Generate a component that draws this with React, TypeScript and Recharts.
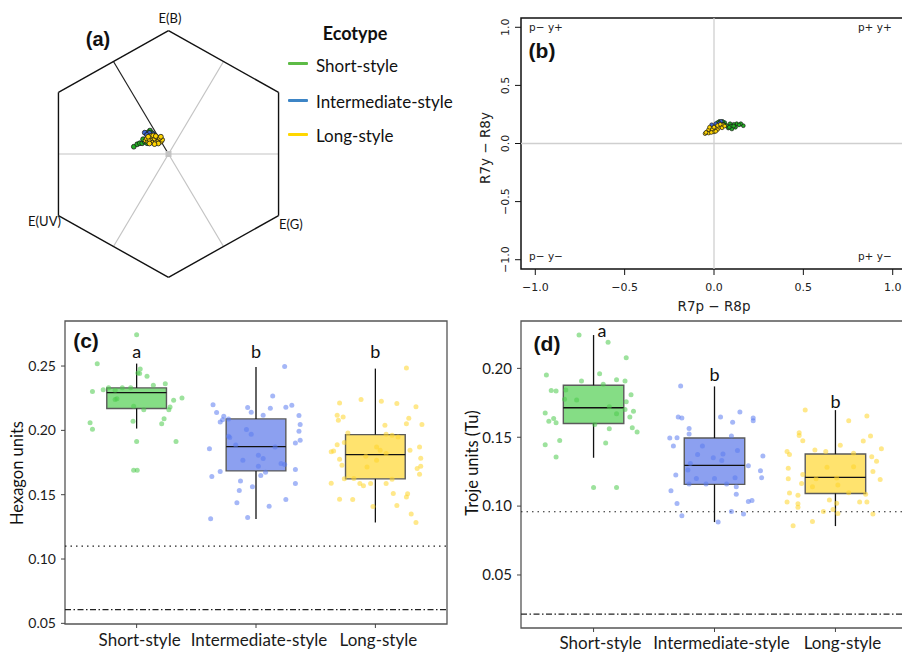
import React from "react";
import { ScatterChart, Scatter, XAxis, YAxis, ReferenceLine, ReferenceArea } from "recharts";

const GROUPS = ["Short-style", "Intermediate-style", "Long-style"];
const LINE_COL = ["#5DBB46", "#3D85C6", "#FFD700"];
const DOT_COL = ["#22B022", "#3B66D6", "#FFD400"];
const BOX_FILL = ["#85DD85", "#8CA0F0", "#FFE36E"];
const JIT_FILL = ["#4CCB4C", "#5B7BF0", "#FFD62A"];

// (a) colour hexagon loci [x, y]
const hexShort = [
  [-0.273, 0.059], [-0.246, 0.079], [-0.226, 0.087], [-0.207, 0.087], [-0.187, 0.1],
  [-0.168, 0.087], [-0.2, 0.12], [-0.146, 0.19], [-0.16, 0.175], [-0.13, 0.17],
];
const hexInter = [[-0.187, 0.173], [-0.15, 0.17], [-0.17, 0.155], [-0.12, 0.16]];
const hexLong = [
  [-0.18, 0.11], [-0.16, 0.1], [-0.14, 0.105], [-0.12, 0.1], [-0.1, 0.105], [-0.08, 0.11],
  [-0.06, 0.1], [-0.05, 0.115], [-0.17, 0.125], [-0.15, 0.12], [-0.13, 0.13], [-0.11, 0.125],
  [-0.09, 0.135], [-0.07, 0.13], [-0.14, 0.145], [-0.12, 0.15], [-0.1, 0.145], [-0.16, 0.14],
  [-0.08, 0.085], [-0.11, 0.08], [-0.15, 0.085], [-0.06, 0.14],
];
const HEX_VERTS = [[0, 1], [0.866, 0.5], [0.866, -0.5], [0, -1], [-0.866, -0.5], [-0.866, 0.5]];
const SPOKE_ANGLES = [0, 60, 120, 180, 240, 300];

// (b) segment classification [R7p-R8p, R7y-R8y]
const segShort = [
  [0.164, 0.153], [0.15, 0.17], [0.127, 0.17], [0.11, 0.165], [0.09, 0.17], [0.08, 0.133],
  [0.1, 0.125], [0.12, 0.14], [0.06, 0.18], [0.048, 0.19], [0.03, 0.19], [0.07, 0.155],
  [0.095, 0.15], [0.11, 0.15], [0.14, 0.16], [0.02, 0.18], [0.055, 0.165], [0.085, 0.14],
];
const segInter = [[0.04, 0.19], [-0.013, 0.161], [0.01, 0.17], [0.02, 0.15], [-0.02, 0.13], [0.03, 0.175]];
const segLong = [
  [-0.05, 0.085], [-0.04, 0.1], [-0.03, 0.09], [-0.02, 0.11], [-0.01, 0.12], [0.0, 0.1],
  [0.01, 0.13], [0.02, 0.12], [0.03, 0.14], [0.04, 0.15], [0.05, 0.16], [-0.03, 0.12],
  [0.0, 0.14], [0.02, 0.155], [0.035, 0.165], [-0.045, 0.095], [-0.015, 0.095], [0.01, 0.105],
  [0.045, 0.135], [-0.025, 0.14], [0.06, 0.15],
];
const QUADRANTS = [
  { x: -0.94, y: 1.0, t: "p\u2212 y+" },
  { x: 0.9, y: 1.0, t: "p+ y+" },
  { x: -0.94, y: -0.97, t: "p\u2212 y\u2212" },
  { x: 0.9, y: -0.97, t: "p+ y\u2212" },
];
const SEG_TICKS = [-1, -0.5, 0, 0.5, 1];

// (c) hexagon units: jitter [offset from group, value]
const hexJitShort = [
  [0, 0.2743], [-0.33, 0.2518], [0.03, 0.2477], [0.025, 0.2441], [0.01, 0.2446], [0.087, 0.242],
  [-0.37, 0.2303], [-0.28, 0.2316], [-0.235, 0.2332], [-0.18, 0.2311], [-0.165, 0.2246],
  [-0.12, 0.2332], [-0.05, 0.2332], [0.14, 0.235], [0.24, 0.2363], [0.31, 0.2234], [0.38, 0.2252],
  [0.28, 0.2182], [0.27, 0.2161], [0.06, 0.2161], [-0.025, 0.2187], [-0.39, 0.206], [-0.37, 0.2008],
  [-0.03, 0.2071], [0.23, 0.2091], [0.21, 0.2052], [0.0, 0.1913], [0.33, 0.1913], [-0.025, 0.169],
  [0.005, 0.169], [-0.18, 0.2239],
];
const hexJitInter = [
  [0.24, 0.2497], [0.14, 0.2267], [-0.36, 0.22], [-0.07, 0.2177], [0.12, 0.2171], [0.25, 0.2179],
  [0.3, 0.2195], [-0.33, 0.2138], [-0.04, 0.214], [-0.27, 0.2109], [-0.28, 0.2083], [-0.3, 0.2065],
  [-0.23, 0.2089], [0.06, 0.2117], [0.36, 0.2115], [0.37, 0.2045], [0.36, 0.1993], [-0.08, 0.2006],
  [-0.04, 0.197], [-0.23, 0.1954], [-0.22, 0.1944], [0.37, 0.1923], [0.33, 0.1902], [-0.17, 0.1887],
  [-0.39, 0.1858], [0.16, 0.1871], [0.02, 0.1807], [0.06, 0.1781], [-0.11, 0.1768], [0.24, 0.1734],
  [0.21, 0.1742], [0.02, 0.1721], [0.33, 0.1695], [0.08, 0.1675], [-0.3, 0.168], [0.04, 0.1649],
  [-0.37, 0.1641], [-0.13, 0.1607], [0.33, 0.1587], [-0.03, 0.1561], [-0.14, 0.1532], [0.25, 0.1463],
  [-0.16, 0.1437], [0.11, 0.1411], [-0.38, 0.1313], [-0.07, 0.1323],
];
const hexJitLong = [
  [0.26, 0.2484], [-0.12, 0.2239], [0.05, 0.2226], [-0.3, 0.2213], [0.18, 0.2208], [0.34, 0.2184],
  [-0.32, 0.2117], [-0.27, 0.2104], [-0.31, 0.2078], [0.28, 0.2094], [0.26, 0.2052], [0.39, 0.2045],
  [0.08, 0.2039], [-0.23, 0.198], [0.09, 0.197], [0.14, 0.1962], [0.19, 0.1949], [-0.32, 0.1889],
  [-0.26, 0.1905], [0.01, 0.1871], [0.37, 0.1871], [-0.35, 0.184], [-0.37, 0.1833], [0.29, 0.1846],
  [0.04, 0.1846], [-0.3, 0.1776], [-0.08, 0.1799], [0.38, 0.1783], [0.01, 0.1768], [0.09, 0.182],
  [-0.28, 0.1729], [0.38, 0.1721], [0.35, 0.1703], [-0.07, 0.1716], [0.37, 0.1659], [-0.26, 0.1623],
  [-0.18, 0.1626], [0.14, 0.162], [-0.13, 0.1587], [-0.1, 0.1569], [-0.04, 0.1587], [0.09, 0.1587],
  [-0.37, 0.1589], [0.15, 0.1509], [0.27, 0.1507], [0.26, 0.1483], [-0.3, 0.1465], [-0.19, 0.1463],
  [0.18, 0.1416], [-0.02, 0.1408], [0.3, 0.1349], [0.34, 0.1284],
];
const hexLo = [0.2014, 0.1312, 0.1284];
const hexQ1 = [0.217, 0.1685, 0.1623];
const hexMed = [0.2293, 0.1874, 0.1812];
const hexQ3 = [0.233, 0.2089, 0.1967];
const hexHi = [0.2519, 0.2492, 0.248];
const hexLetters = [
  { x: 1, y: 0.2617, t: "a" },
  { x: 2, y: 0.2617, t: "b" },
  { x: 3, y: 0.2617, t: "b" },
];
const hexTicks = [0.05, 0.1, 0.15, 0.2, 0.25];

// (d) troje units
const trJitShort = [
  [-0.12, 0.2242], [0.12, 0.2189], [0.27, 0.2077], [-0.39, 0.1952], [0.05, 0.1961], [-0.1, 0.1908],
  [0.19, 0.1918], [0.26, 0.1908], [-0.35, 0.184], [-0.31, 0.1835], [-0.23, 0.1843], [0.08, 0.1884],
  [0.31, 0.1809], [-0.24, 0.1775], [-0.14, 0.177], [0.27, 0.1758], [0.13, 0.1722], [-0.4, 0.1676],
  [-0.37, 0.1617], [-0.33, 0.1637], [-0.31, 0.1605], [0.33, 0.1688], [0.26, 0.1702], [0.19, 0.1671],
  [0.3, 0.1647], [0.01, 0.1593], [0.13, 0.1562], [0.32, 0.1569], [0.36, 0.1538], [-0.28, 0.1477],
  [0.1, 0.1458], [-0.4, 0.1446], [-0.31, 0.1356], [0.0, 0.1136], [0.19, 0.1136],
];
const trJitInter = [
  [-0.28, 0.1872], [-0.3, 0.1647], [-0.27, 0.1639], [0.05, 0.1647], [0.21, 0.1683], [0.15, 0.1608],
  [0.32, 0.1639], [0.32, 0.162], [-0.21, 0.1564], [-0.21, 0.1523], [-0.37, 0.1494], [-0.31, 0.1496],
  [0.14, 0.1509], [-0.34, 0.1436], [-0.1, 0.1436], [-0.14, 0.1375], [0.19, 0.1404], [0.4, 0.1363],
  [-0.2, 0.131], [-0.01, 0.1351], [0.07, 0.1378], [0.28, 0.1293], [0.06, 0.1332], [0.38, 0.1257],
  [-0.32, 0.1225], [-0.22, 0.1262], [-0.15, 0.1201], [0.0, 0.1201], [0.17, 0.1206], [-0.21, 0.116],
  [-0.07, 0.116], [0.1, 0.116], [0.18, 0.114], [0.39, 0.1206], [-0.36, 0.1111], [0.18, 0.1087],
  [-0.31, 0.1019], [0.28, 0.1034], [0.31, 0.1041], [0.14, 0.0961], [0.24, 0.0942], [-0.27, 0.093],
  [0.03, 0.0884],
];
const trJitLong = [
  [-0.25, 0.1697], [0.11, 0.162], [0.26, 0.1654], [-0.3, 0.1533], [-0.3, 0.1513], [-0.27, 0.1475],
  [0.29, 0.1509], [0.23, 0.1472], [0.38, 0.1417], [0.04, 0.1441], [-0.4, 0.1397], [-0.38, 0.1375],
  [-0.17, 0.1407], [-0.08, 0.1397], [0.15, 0.1383], [0.3, 0.1358], [0.34, 0.1325], [-0.39, 0.1274],
  [0.31, 0.1252], [-0.27, 0.123], [-0.07, 0.1283], [0.15, 0.1286], [-0.39, 0.1199], [-0.16, 0.1199],
  [0.01, 0.1204], [0.37, 0.1194], [-0.28, 0.1165], [-0.19, 0.1141], [0.02, 0.1153], [0.11, 0.1097],
  [0.25, 0.1087], [-0.38, 0.1095], [-0.31, 0.1078], [-0.05, 0.1044], [-0.4, 0.1029], [-0.31, 0.1017],
  [0.01, 0.102], [0.2, 0.1029], [0.26, 0.1029], [-0.31, 0.0991], [-0.1, 0.0961], [-0.02, 0.0976],
  [0.02, 0.0947], [0.31, 0.0942], [-0.19, 0.0889], [-0.35, 0.0857],
];
const trLo = [0.1351, 0.0884, 0.0855];
const trQ1 = [0.16, 0.1158, 0.1092];
const trMed = [0.1714, 0.1296, 0.1208];
const trQ3 = [0.1877, 0.1494, 0.1378];
const trHi = [0.2242, 0.1869, 0.1697];
const trLetters = [
  { x: 1.07, y: 0.2278, t: "a" },
  { x: 2, y: 0.1956, t: "b" },
  { x: 3, y: 0.1765, t: "b" },
];
const trTicks = [0.05, 0.1, 0.15, 0.2];

const FONT = "Lato, 'Open Sans', sans-serif";
const RFONT = "'DejaVu Sans', sans-serif";

const xy = (arr: number[][]) => arr.map(([x, y]) => ({ x, y }));
const signed = (v: number) => (v < 0 ? "\u2212" : "") + Math.abs(v).toFixed(1);

function T({ x, y, size = 14, weight = 400, family = FONT, rot = 0, anchor = "center", color = "#111", children }: any) {
  const tx = anchor === "center" ? "-50%" : anchor === "start" ? "0" : "-100%";
  return (
    <div
      style={{
        position: "absolute",
        left: x,
        top: y,
        transform: `translate(${tx}, -50%) rotate(${rot}deg)`,
        fontSize: size,
        fontWeight: weight,
        fontFamily: family,
        color,
        whiteSpace: "nowrap",
        lineHeight: 1,
      }}
    >
      {children}
    </div>
  );
}

const dot = (fill: string, r: number, sw: number) => (p: any) =>
  <circle cx={p.cx} cy={p.cy} r={r} fill={fill} stroke="#1a1a1a" strokeWidth={sw} />;

const textShape = (size: number, family: string, color = "#111") => (p: any) => (
  <text x={p.cx} y={p.cy} textAnchor="middle" dominantBaseline="central" fontSize={size} fontFamily={family} fill={color}>
    {p.payload.t}
  </text>
);

function HexagonPanel() {
  const segs = HEX_VERTS.map((v, i) => [v, HEX_VERTS[(i + 1) % HEX_VERTS.length]]);
  const spokes = SPOKE_ANGLES.map((a) => {
    const r = (a * Math.PI) / 180;
    return { a, end: [0.866 * Math.cos(r), 0.866 * Math.sin(r)] };
  });
  return (
    <div style={{ position: "absolute", left: 16, top: 6 }}>
      <ScatterChart width={305} height={296} margin={{ top: 0, right: 0, bottom: 0, left: 0 }}>
        <XAxis type="number" dataKey="x" domain={[-1.2, 1.2]} hide allowDataOverflow />
        <YAxis type="number" dataKey="y" domain={[-1.2, 1.2]} hide allowDataOverflow />
        {spokes.map((s) => (
          <ReferenceLine
            key={s.a}
            segment={[{ x: 0, y: 0 }, { x: s.end[0], y: s.end[1] }]}
            stroke={s.a === 120 ? "#222" : "#c4c4c4"}
            strokeWidth={1.2}
          />
        ))}
        {segs.map(([a, b], i) => (
          <ReferenceLine key={i} segment={[{ x: a[0], y: a[1] }, { x: b[0], y: b[1] }]} stroke="#111" strokeWidth={1.4} />
        ))}
        <Scatter
          data={[{ x: 0, y: 0 }]}
          isAnimationActive={false}
          shape={(p: any) => <rect x={p.cx - 3} y={p.cy - 3} width={6} height={6} fill="#c4c4c4" />}
        />
        <Scatter data={xy(hexShort)} isAnimationActive={false} shape={dot(DOT_COL[0], 2.4, 0.8)} />
        <Scatter data={xy(hexInter)} isAnimationActive={false} shape={dot(DOT_COL[1], 2.4, 0.8)} />
        <Scatter data={xy(hexLong)} isAnimationActive={false} shape={dot(DOT_COL[2], 2.4, 0.8)} />
      </ScatterChart>
    </div>
  );
}

const RotTick = (p: any) => (
  <text
    x={p.x - 6}
    y={p.y}
    transform={`rotate(-90 ${p.x - 6} ${p.y})`}
    textAnchor="middle"
    fontSize={11}
    fontFamily={RFONT}
    fill="#222"
  >
    {signed(p.payload.value)}
  </text>
);

function SegmentPanel() {
  return (
    <div style={{ position: "absolute", left: 470, top: 0 }}>
      <ScatterChart width={440} height={320} margin={{ top: 18, right: 3, bottom: 0, left: 0 }}>
        <XAxis
          type="number"
          dataKey="x"
          domain={[-1.08, 1.08]}
          ticks={SEG_TICKS}
          tickFormatter={signed}
          height={51}
          axisLine={false}
          tickSize={6}
          tickMargin={8}
          stroke="#111"
          tick={{ fontSize: 11, fontFamily: RFONT, fill: "#222" }}
          interval={0}
          allowDataOverflow
        />
        <YAxis
          type="number"
          dataKey="y"
          domain={[-1.08, 1.08]}
          ticks={SEG_TICKS}
          width={51}
          axisLine={false}
          tickSize={6}
          tickMargin={0}
          stroke="#111"
          tick={RotTick}
          interval={0}
          allowDataOverflow
        />
        <ReferenceLine x={0} stroke="#cfcfcf" strokeWidth={1.3} />
        <ReferenceLine y={0} stroke="#cfcfcf" strokeWidth={1.3} />
        <ReferenceArea x1={-1.08} x2={1.08} y1={-1.08} y2={1.08} fill="none" stroke="#111" strokeWidth={1.5} />
        <Scatter data={QUADRANTS} isAnimationActive={false} shape={textShape(10.5, RFONT, "#222")} />
        <Scatter data={xy(segShort)} isAnimationActive={false} shape={dot(DOT_COL[0], 1.9, 0.7)} />
        <Scatter data={xy(segInter)} isAnimationActive={false} shape={dot(DOT_COL[1], 1.9, 0.7)} />
        <Scatter data={xy(segLong)} isAnimationActive={false} shape={dot(DOT_COL[2], 1.9, 0.7)} />
      </ScatterChart>
    </div>
  );
}

function BoxPanel({ left, top, width, height, margin, yWidth, xHeight, domain, ticks, jitter, lo, q1, med, q3, hi, letters, dotted, dashdot, tickSize, labelDx, bottomGap }: any) {
  const pts = jitter.map((g: number[][], i: number) => g.map(([dx, y]) => ({ x: i + 1 + dx, y })));
  return (
    <div style={{ position: "absolute", left, top }}>
      <ScatterChart width={width} height={height} margin={margin}>
        <XAxis
          type="number"
          dataKey="x"
          domain={[0.4, 3.6]}
          ticks={[1, 2, 3]}
          tickFormatter={(v: number) => GROUPS[v - 1]}
          height={xHeight}
          axisLine={false}
          tickSize={4}
          tickMargin={bottomGap}
          stroke="#444"
          tick={{ fontSize: 17, fontFamily: FONT, fill: "#1a1a1a", dx: labelDx }}
          interval={0}
          allowDataOverflow
        />
        <YAxis
          type="number"
          dataKey="y"
          domain={domain}
          ticks={ticks}
          tickFormatter={(v: number) => v.toFixed(2)}
          width={yWidth}
          axisLine={false}
          tickSize={4}
          tickMargin={5}
          stroke="#444"
          tick={{ fontSize: tickSize, fontFamily: FONT, fill: "#1a1a1a" }}
          interval={0}
          allowDataOverflow
        />
        <ReferenceArea x1={0.4} x2={3.6} y1={domain[0]} y2={domain[1]} fill="none" stroke="#555" strokeWidth={1.3} />
        <ReferenceLine y={dotted} stroke="#222" strokeDasharray="1.5 4" strokeWidth={1.2} />
        <ReferenceLine y={dashdot} stroke="#222" strokeDasharray="6 2.5 1.5 2.5" strokeWidth={1.2} />
        {GROUPS.map((g, i) => (
          <ReferenceLine key={"lw" + g} segment={[{ x: i + 1, y: lo[i] }, { x: i + 1, y: q1[i] }]} stroke="#111" strokeWidth={1.3} />
        ))}
        {GROUPS.map((g, i) => (
          <ReferenceLine key={"hw" + g} segment={[{ x: i + 1, y: q3[i] }, { x: i + 1, y: hi[i] }]} stroke="#111" strokeWidth={1.3} />
        ))}
        {GROUPS.map((g, i) => (
          <ReferenceArea
            key={"bx" + g}
            x1={i + 0.75}
            x2={i + 1.25}
            y1={q1[i]}
            y2={q3[i]}
            fill={BOX_FILL[i]}
            fillOpacity={1}
            stroke="#5a5a5a"
            strokeWidth={1.4}
          />
        ))}
        {GROUPS.map((g, i) => (
          <ReferenceLine key={"md" + g} segment={[{ x: i + 0.75, y: med[i] }, { x: i + 1.25, y: med[i] }]} stroke="#111" strokeWidth={1.3} />
        ))}
        {pts.map((d: any, i: number) => (
          <Scatter
            key={"j" + i}
            data={d}
            isAnimationActive={false}
            shape={(p: any) => <circle cx={p.cx} cy={p.cy} r={2.5} fill={JIT_FILL[i]} fillOpacity={0.55} />}
          />
        ))}
        <Scatter data={letters} isAnimationActive={false} shape={textShape(18, FONT)} />
      </ScatterChart>
    </div>
  );
}

export default function App() {
  return (
    <div
      style={{
        position: "fixed",
        left: 0,
        top: 0,
        width: 902,
        height: 653,
        overflow: "hidden",
        background: "#fff",
        fontFamily: FONT,
      }}
    >
      <HexagonPanel />
      <T x={170} y={18} size={13}>E(B)</T>
      <T x={61} y={221} size={13} anchor="end">E(UV)</T>
      <T x={279} y={224} size={13} anchor="start">E(G)</T>
      <T x={98} y={39} size={20} weight={700} family="'Liberation Sans', Arial, sans-serif">(a)</T>

      <T x={355} y={33} size={18} weight={700}>Ecotype</T>
      {GROUPS.map((g, i) => (
        <React.Fragment key={g}>
          <div
            style={{
              position: "absolute",
              left: 288,
              top: [63, 100, 134][i] - 1.5,
              width: 20,
              height: 3,
              background: LINE_COL[i],
              borderRadius: 1,
            }}
          />
          <T x={316} y={[65, 101, 135][i]} size={17} anchor="start">{g}</T>
        </React.Fragment>
      ))}

      <SegmentPanel />
      <T x={542} y={50} size={21} weight={700} family="'Liberation Sans', Arial, sans-serif">(b)</T>
      <T x={714} y={307} size={13.5} family={RFONT} color="#222">R7p − R8p</T>
      <T x={486} y={148} size={13.5} family={RFONT} color="#222" rot={-90}>R7y − R8y</T>

      <BoxPanel
        left={0}
        top={300}
        width={460}
        height={353}
        margin={{ top: 21, right: 13, bottom: 0, left: 0 }}
        yWidth={65}
        xHeight={29}
        domain={[0.0495, 0.285]}
        ticks={hexTicks}
        jitter={[hexJitShort, hexJitInter, hexJitLong]}
        lo={hexLo}
        q1={hexQ1}
        med={hexMed}
        q3={hexQ3}
        hi={hexHi}
        letters={hexLetters}
        dotted={0.11}
        dashdot={0.0607}
        tickSize={14}
        labelDx={3}
        bottomGap={6}
      />
      <T x={86} y={340} size={21} weight={700} family="'Liberation Sans', Arial, sans-serif">(c)</T>
      <T x={17} y={473} size={16.5} rot={-90}>Hexagon units</T>

      <BoxPanel
        left={450}
        top={300}
        width={460}
        height={353}
        margin={{ top: 21, right: 2, bottom: 0, left: 5 }}
        yWidth={66}
        xHeight={25}
        domain={[0.0115, 0.2344]}
        ticks={trTicks}
        jitter={[trJitShort, trJitInter, trJitLong]}
        lo={trLo}
        q1={trQ1}
        med={trMed}
        q3={trQ3}
        hi={trHi}
        letters={trLetters}
        dotted={0.0959}
        dashdot={0.0216}
        tickSize={15}
        labelDx={7}
        bottomGap={5}
      />
      <T x={547} y={343} size={21} weight={700} family="'Liberation Sans', Arial, sans-serif">(d)</T>
      <T x={472} y={463} size={16.5} rot={-90}>Troje units (Tu)</T>
    </div>
  );
}
